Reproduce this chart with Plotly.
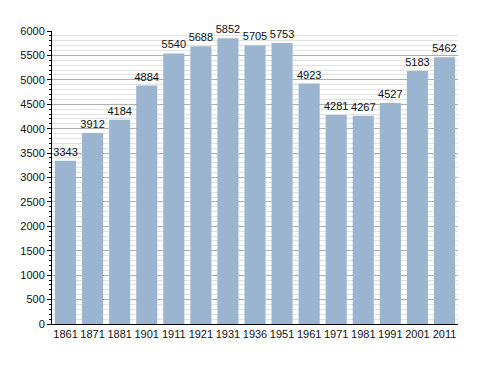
import plotly.graph_objects as go

years = ["1861", "1871", "1881", "1901", "1911", "1921", "1931", "1936", "1951", "1961", "1971", "1981", "1991", "2001", "2011"]
population = [3343, 3912, 4184, 4884, 5540, 5688, 5852, 5705, 5753, 4923, 4281, 4267, 4527, 5183, 5462]

fig = go.Figure(go.Bar(
    x=years, y=population,
    marker=dict(color="#9bb4d0", line=dict(width=0)),
    text=[str(v) for v in population], textposition="outside",
    textfont=dict(size=11, color="#111"),
    constraintext="none",
    cliponaxis=False,
))

fig.update_layout(
    width=488, height=373,
    margin=dict(l=42, r=38, t=23, b=57),
    paper_bgcolor="white", plot_bgcolor="white",
    font=dict(family="Liberation Sans, Arial, sans-serif", size=11, color="#111"),
    bargap=0.22,
    showlegend=False,
    yaxis=dict(
        range=[0, 6000], tickvals=list(range(0, 6001, 500)),
        showgrid=True, gridcolor="#b0b0b0", gridwidth=1,
        showline=True, linecolor="black", linewidth=1,
        ticks="outside", ticklen=4, tickcolor="black",
        minor=dict(dtick=100, showgrid=True, gridcolor="#e2e2e2", ticks="outside", ticklen=2, tickcolor="black"),
        zeroline=False, fixedrange=True,
    ),
    xaxis=dict(
        showline=True, linecolor="black", linewidth=1,
        showgrid=False, ticks="", tickangle=0,
    ),
)

fig.write_html("out.html")
